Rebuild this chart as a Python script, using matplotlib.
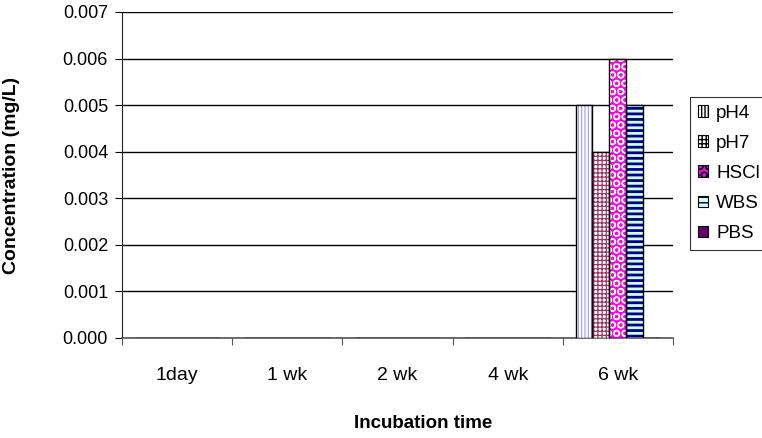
import numpy as np
import matplotlib
matplotlib.use('Agg')
from matplotlib import pyplot as plt
from matplotlib.patches import Patch

plt.rcParams['font.family'] = ['Liberation Sans', 'DejaVu Sans']

categories = ['1day', '1 wk', '2 wk', '4 wk', '6 wk']
series = ['pH4', 'pH7', 'HSCl', 'WBS', 'PBS']
ph4 = [0, 0, 0, 0, 0.005]
ph7 = [0, 0, 0, 0, 0.004]
hscl = [0, 0, 0, 0, 0.006]
wbs = [0, 0, 0, 0, 0.005]
pbs = [0, 0, 0, 0, 0.0]
values = [ph4, ph7, hscl, wbs, pbs]

# face, hatch colour, hatch pattern, hatch width
styles = [
    ('white', '#9999FF', '|||||', 0.8),
    ('white', '#993366', '++++', 0.9),
    ('#FF00FF', '#FFFFCC', 'OO', 1.0),
    ('#CCFFFF', '#000080', '---', 2.0),
    ('#660066', '#660066', '', 1.0),
]

fig = plt.figure(figsize=(7.62, 4.38), dpi=100)
ax = fig.add_axes([122 / 762, 1 - 338 / 438, (673 - 122) / 762, (338 - 12) / 438])

x = np.arange(len(categories))
w = 1 / 6.5

handles = []
for i, (name, vals) in enumerate(zip(series, values)):
    face, hc, hatch, hlw = styles[i]
    pos = x + (i - 2) * w
    with plt.rc_context({'hatch.linewidth': hlw}):
        ax.bar(pos, vals, w, color=face, edgecolor=hc, hatch=hatch, linewidth=0, zorder=3)
        handles.append(Patch(facecolor=face, edgecolor=hc, hatch=hatch, linewidth=0))
    ax.bar(pos, vals, w, fill=False, edgecolor='black', linewidth=1.0, zorder=4)

ax.set_xlim(-0.5, 4.5)
ax.set_ylim(0, 0.007)
yt = np.arange(0, 0.0071, 0.001)
ax.set_yticks(yt)
ax.set_yticklabels(['%.3f' % v for v in yt])
ax.yaxis.grid(True, color='black', linewidth=1.0, zorder=0)
ax.set_axisbelow(True)

ax.set_xticks(np.arange(-0.5, 5, 1))
ax.set_xticklabels([])
ax.set_xticks(x, minor=True)
ax.set_xticklabels(categories, minor=True)
ax.tick_params(axis='x', which='minor', length=0, pad=21, labelsize=14)
ax.tick_params(axis='x', which='major', length=5, direction='out', color='#555555')
ax.tick_params(axis='y', length=5, direction='out', labelsize=13, pad=5)

for s in ['top', 'right']:
    ax.spines[s].set_visible(False)
ax.spines['left'].set_color('#222222')
ax.spines['bottom'].set_color('#555555')
ax.spines['bottom'].set_linewidth(1.2)

ax.set_ylabel('Concentration (mg/L)', fontsize=14, fontweight='bold')
ax.yaxis.set_label_coords(20 / 762, 1 - 175 / 438, transform=fig.transFigure)
fig.text(423 / 762, 1 - 423 / 438, 'Incubation time', fontsize=13.5, fontweight='bold',
         ha='center', va='center')

leg = fig.legend(handles, series, loc='upper left', bbox_to_anchor=(690 / 762, 1 - 97 / 438),
                 fontsize=13.5, frameon=True, fancybox=False, edgecolor='black',
                 handlelength=0.55, handleheight=0.55, handletextpad=0.45,
                 labelspacing=0.7, borderpad=0.4, borderaxespad=0)
leg.get_frame().set_linewidth(0.8)
for p in leg.get_patches():
    p.set_edgecolor('black')
    p.set_linewidth(0.8)

fig.savefig('out.png', dpi=100)
